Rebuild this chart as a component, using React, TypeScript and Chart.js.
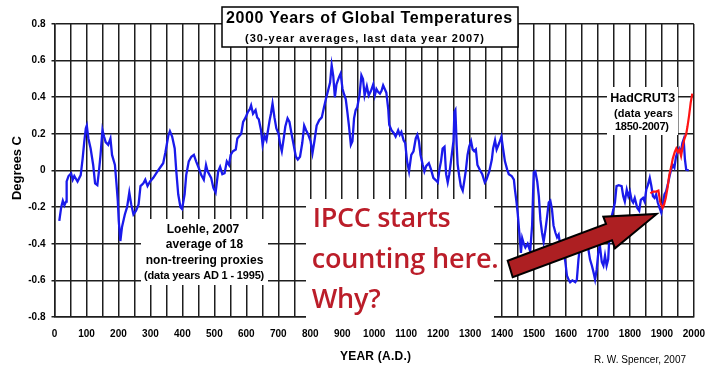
import { useEffect, useRef } from 'react';
import { Chart, registerables } from 'chart.js';
Chart.register(...registerables);

// Loehle 2007, 30-year averages: [year, temperature anomaly °C]
const loehleSeries: [number, number][] = [
  [15,-0.275],[21,-0.20],[26,-0.165],[31,-0.19],[36,-0.17],[38,-0.06],[44,-0.03],[52,-0.015],[57,-0.05],[62,-0.03],
  [72,-0.06],[82,-0.025],[88,0.065],[93,0.155],[98,0.23],[101,0.245],[106,0.175],[113,0.12],[121,0.03],[127,-0.07],
  [134,-0.08],[139,-0.005],[144,0.085],[150,0.22],[155,0.185],[160,0.155],[168,0.14],[175,0.175],[180,0.085],[189,0.03],
  [194,-0.075],[198,-0.165],[201,-0.275],[206,-0.385],[211,-0.31],[220,-0.24],[227,-0.20],[234,-0.12],[240,-0.185],[247,-0.24],
  [255,-0.22],[263,-0.185],[269,-0.085],[278,-0.07],[284,-0.05],[291,-0.085],[299,-0.06],[309,-0.04],[320,-0.01],[330,0.015],
  [340,0.04],[347,0.10],[356,0.19],[361,0.215],[368,0.185],[376,0.12],[381,-0.005],[387,-0.13],[394,-0.20],[399,-0.21],
  [407,-0.13],[412,-0.025],[420,0.05],[428,0.075],[436,0.085],[443,0.05],[451,0.015],[459,-0.025],[467,-0.05],[474,0.03],
  [479,-0.005],[490,-0.04],[497,-0.095],[504,-0.12],[512,-0.005],[518,0.02],[525,-0.02],[532,-0.015],[539,0.05],[546,0.03],
  [551,0.085],[558,0.105],[567,0.115],[572,0.175],[577,0.185],[584,0.20],[590,0.265],[598,0.29],[605,0.32],[611,0.335],
  [615,0.355],[621,0.31],[629,0.33],[634,0.29],[639,0.28],[646,0.22],[651,0.14],[657,0.19],[663,0.165],[667,0.21],
  [673,0.275],[677,0.31],[682,0.365],[688,0.29],[694,0.23],[701,0.20],[706,0.14],[711,0.105],[717,0.175],[722,0.24],
  [729,0.285],[735,0.265],[742,0.195],[748,0.14],[755,0.075],[761,0.06],[768,0.075],[775,0.15],[781,0.245],[787,0.22],
  [794,0.195],[801,0.16],[807,0.095],[813,0.16],[820,0.245],[828,0.275],[836,0.29],[843,0.345],[849,0.39],[857,0.445],
  [862,0.48],[867,0.575],[872,0.515],[877,0.40],[882,0.47],[890,0.51],[895,0.53],[901,0.445],[906,0.415],[911,0.39],
  [916,0.32],[921,0.245],[927,0.14],[932,0.16],[937,0.285],[942,0.33],[947,0.345],[954,0.41],[960,0.52],[965,0.50],
  [970,0.41],[977,0.46],[983,0.41],[990,0.435],[997,0.47],[1002,0.41],[1007,0.445],[1012,0.43],[1018,0.42],[1023,0.435],
  [1028,0.465],[1033,0.445],[1038,0.425],[1044,0.335],[1047,0.25],[1054,0.22],[1061,0.205],[1067,0.185],[1075,0.22],[1080,0.195],
  [1085,0.21],[1092,0.165],[1097,0.15],[1103,0.05],[1109,-0.005],[1116,0.085],[1123,0.105],[1130,0.175],[1135,0.195],[1140,0.16],
  [1145,0.085],[1152,0.03],[1157,-0.005],[1163,0.025],[1171,0.04],[1178,0.005],[1185,-0.04],[1194,-0.055],[1199,-0.065],[1204,0.005],
  [1209,0.05],[1214,0.12],[1220,0.13],[1225,-0.02],[1230,-0.065],[1235,-0.02],[1240,0.05],[1248,0.16],[1251,0.32],[1254,0.33],
  [1258,0.14],[1261,0.035],[1266,-0.03],[1271,-0.085],[1277,-0.11],[1282,-0.055],[1287,0.005],[1292,0.085],[1297,0.13],[1303,0.16],
  [1308,0.115],[1313,0.105],[1318,0.115],[1323,0.03],[1330,0.005],[1338,-0.02],[1346,-0.065],[1351,-0.05],[1360,-0.005],[1368,0.06],
  [1372,0.12],[1378,0.165],[1383,0.115],[1391,0.15],[1398,0.185],[1403,0.12],[1409,0.05],[1416,0.005],[1421,-0.02],[1430,-0.03],
  [1437,-0.05],[1440,-0.10],[1445,-0.17],[1449,-0.235],[1454,-0.34],[1459,-0.45],[1463,-0.37],[1468,-0.40],[1473,-0.42],[1480,-0.40],
  [1488,-0.44],[1494,-0.30],[1499,-0.01],[1504,-0.005],[1510,-0.06],[1515,-0.14],[1520,-0.27],[1525,-0.34],[1530,-0.39],[1536,-0.32],
  [1541,-0.25],[1546,-0.175],[1551,-0.165],[1556,-0.21],[1561,-0.30],[1567,-0.34],[1572,-0.365],[1577,-0.35],[1582,-0.41],[1593,-0.45],
  [1598,-0.50],[1603,-0.575],[1608,-0.595],[1613,-0.61],[1620,-0.60],[1629,-0.61],[1634,-0.595],[1639,-0.485],[1644,-0.41],[1650,-0.375],
  [1655,-0.36],[1660,-0.41],[1665,-0.40],[1670,-0.43],[1675,-0.485],[1681,-0.52],[1686,-0.555],[1691,-0.595],[1696,-0.54],[1701,-0.45],
  [1706,-0.41],[1712,-0.50],[1717,-0.52],[1722,-0.465],[1727,-0.52],[1732,-0.485],[1737,-0.32],[1743,-0.25],[1748,-0.215],[1753,-0.175],
  [1758,-0.085],[1765,-0.08],[1774,-0.085],[1779,-0.14],[1784,-0.17],[1790,-0.105],[1795,-0.14],[1800,-0.115],[1805,-0.16],[1810,-0.175],
  [1815,-0.15],[1823,-0.205],[1829,-0.22],[1834,-0.16],[1841,-0.15],[1846,-0.17],[1851,-0.105],[1856,-0.08],[1862,-0.04],[1867,-0.085],
  [1872,-0.14],[1877,-0.15],[1882,-0.13],[1887,-0.175],[1893,-0.205],[1898,-0.23],[1903,-0.185],[1908,-0.13],[1913,-0.115],[1918,-0.08],
  [1924,-0.03],[1929,0.005],[1934,0.03],[1939,0.015],[1944,0.075],[1949,0.10],[1954,0.12],[1959,0.095],[1964,0.15],[1968,0.17],
  [1972,0.06],[1976,0.005],[1984,0.0],
];

// HadCRUT3, 30-year averages: [year, temperature anomaly °C]
const hadcrutSeries: [number, number][] = [
  [1864,-0.125],[1872,-0.115],[1882,-0.115],[1889,-0.11],[1895,-0.175],[1902,-0.205],[1907,-0.185],[1912,-0.15],
  [1918,-0.09],[1923,-0.025],[1929,0.02],[1934,0.065],[1940,0.10],[1945,0.12],[1950,0.10],[1955,0.115],
  [1960,0.08],[1965,0.13],[1970,0.17],[1976,0.2],[1980,0.24],[1985,0.30],[1990,0.37],[1995,0.42],
];

const yearTickLabels = ['0','100','200','300','400','500','600','700','800','900','1000','1100','1200','1300','1400','1500','1600','1700','1800','1900','2000'];
const tempTickLabels = ['-0.8','-0.6','-0.4','-0.2','0','0.2','0.4','0.6','0.8'];

const SANS = '"Liberation Sans", Arial, Helvetica, sans-serif';
const GRID = '#1e1e1e';

function fitText(ctx: CanvasRenderingContext2D, text: string, x: number, baseline: number, width: number, font: string, color: string, align: 'left' | 'center' = 'center') {
  ctx.font = font;
  (ctx as any).letterSpacing = '0px';
  const w = ctx.measureText(text).width;
  const ls = (width - w) / Math.max(1, text.length - 1);
  (ctx as any).letterSpacing = ls.toFixed(2) + 'px';
  ctx.textAlign = 'left';
  ctx.textBaseline = 'alphabetic';
  ctx.fillStyle = color;
  const left = align === 'center' ? x - width / 2 : x;
  ctx.fillText(text, left, baseline);
  (ctx as any).letterSpacing = '0px';
}

const annotationPlugin = {
  id: 'annotations',
  afterDraw(chart: any) {
    const ctx: CanvasRenderingContext2D = chart.ctx;
    ctx.save();
    // white boxes
    ctx.fillStyle = '#fff';
    ctx.fillRect(141, 219, 127, 66);
    ctx.fillRect(607, 87, 71, 48);
    ctx.fillRect(306, 199, 188, 123);
    ctx.fillRect(222, 7, 296, 40);
    ctx.strokeStyle = '#000';
    ctx.lineWidth = 1.5;
    ctx.strokeRect(222, 7, 296, 40);

    // title
    fitText(ctx, '2000 Years of Global Temperatures', 369, 23.3, 286, `bold 16px ${SANS}`, '#000');
    fitText(ctx, '(30-year averages, last data year 2007)', 364.5, 42.3, 239, `bold 11px ${SANS}`, '#000');

    // Loehle note
    fitText(ctx, 'Loehle, 2007', 203, 232.7, 72.6, `bold 12px ${SANS}`, '#000');
    fitText(ctx, 'average of 18', 204.5, 248.3, 77.6, `bold 12px ${SANS}`, '#000');
    fitText(ctx, 'non-treering proxies', 204.5, 264, 117.6, `bold 12px ${SANS}`, '#000');
    fitText(ctx, '(data years AD 1 - 1995)', 204.2, 279.3, 120.3, `bold 11px ${SANS}`, '#000');

    // HadCRUT note
    fitText(ctx, 'HadCRUT3', 642.8, 101.7, 65, `bold 12.5px ${SANS}`, '#000');
    fitText(ctx, '(data years', 643.5, 116.7, 59, `bold 11px ${SANS}`, '#000');
    fitText(ctx, '1850-2007)', 642, 130, 54, `bold 11px ${SANS}`, '#000');

    // IPCC note
    const OS = '"Open Sans", "Noto Sans", sans-serif';
    const red = '#bb1d29';
    fitText(ctx, 'IPCC starts', 312.7, 226.7, 138, `600 27px ${OS}`, red, 'left');
    fitText(ctx, 'counting here.', 311.7, 268.3, 187, `600 27px ${OS}`, red, 'left');
    fitText(ctx, 'Why?', 311.7, 308, 69, `600 27px ${OS}`, red, 'left');

    // arrow
    const pts: [number, number][] = [
      [507.7, 260.7], [606, 224], [603.3, 216.7], [656.7, 214], [615, 248.3], [612, 240.3], [512.7, 277.3],
    ];
    ctx.beginPath();
    pts.forEach(([px, py], i) => (i === 0 ? ctx.moveTo(px, py) : ctx.lineTo(px, py)));
    ctx.closePath();
    ctx.fillStyle = '#ad1f22';
    ctx.fill();
    ctx.lineJoin = 'miter';
    ctx.lineWidth = 2;
    ctx.strokeStyle = '#000';
    ctx.stroke();

    // axis titles
    ctx.save();
    ctx.translate(16, 168);
    ctx.rotate(-Math.PI / 2);
    fitText(ctx, 'Degrees C', 0, 4.5, 64, `bold 13px ${SANS}`, '#000');
    ctx.restore();
    fitText(ctx, 'YEAR (A.D.)', 375.5, 359.5, 71, `bold 12px ${SANS}`, '#000');
    fitText(ctx, 'R. W. Spencer, 2007', 640, 363, 92, `10px ${SANS}`, '#000');
    ctx.restore();
  },
};

export default function App() {
  const ref = useRef<HTMLCanvasElement>(null);
  useEffect(() => {
    if (!ref.current) return;
    const chart = new Chart(ref.current, {
      type: 'line',
      data: {
        datasets: [
          {
            label: 'HadCRUT3',
            data: hadcrutSeries.map(([x, y]) => ({ x, y })),
            borderColor: '#ff1414',
            borderWidth: 2.2,
            pointRadius: 0,
            tension: 0,
            fill: false,
          },
          {
            label: 'Loehle 2007',
            data: loehleSeries.map(([x, y]) => ({ x, y })),
            borderColor: '#1a1aeb',
            borderWidth: 2.3,
            pointRadius: 0,
            tension: 0,
            fill: false,
          },
        ],
      },
      options: {
        animation: false,
        responsive: false,
        devicePixelRatio: 1,
        layout: { padding: { left: 0, top: 24, right: 18, bottom: 0 } },
        plugins: { legend: { display: false }, tooltip: { enabled: false }, title: { display: false } },
        scales: {
          x: {
            type: 'linear',
            min: 0,
            max: 2000,
            ticks: {
              stepSize: 50,
              autoSkip: false,
              maxRotation: 0,
              minRotation: 0,
              padding: 11,
              color: '#000',
              font: { family: SANS, size: 10, weight: 'bold' },
              callback: (v: any) => {
                const s = String(Math.round(Number(v)));
                return yearTickLabels.includes(s) ? s : '';
              },
            },
            grid: { color: GRID, lineWidth: 1.5, drawTicks: false },
            border: { display: true, color: GRID, width: 1.5 },
            afterFit: (s: any) => { s.height = 60; },
          },
          y: {
            type: 'linear',
            min: -0.8,
            max: 0.8,
            ticks: {
              stepSize: 0.2,
              padding: 6,
              color: '#000',
              font: { family: SANS, size: 10, weight: 'bold' },
              callback: (v: any) => {
                const n = Number(v);
                const s = Math.abs(n) < 1e-9 ? '0' : n.toFixed(1);
                return tempTickLabels.includes(s) ? s : '';
              },
            },
            grid: { color: GRID, lineWidth: 1.5, tickLength: 3 },
            border: { display: true, color: GRID, width: 1.5 },
            afterFit: (s: any) => { s.width = 54.5; },
          },
        },
      },
      plugins: [annotationPlugin],
    } as any);
    return () => chart.destroy();
  }, []);
  return (
    <div style={{ position: 'fixed', left: 0, top: 0, width: 716, height: 377, background: '#fff' }}>
      <canvas ref={ref} width={716} height={377} style={{ display: 'block', width: 716, height: 377 }} />
    </div>
  );
}
